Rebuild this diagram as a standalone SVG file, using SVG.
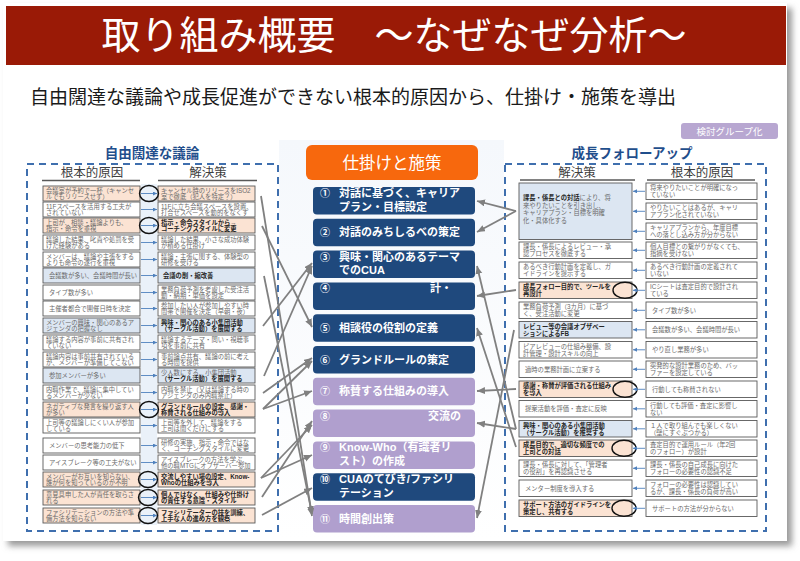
<svg xmlns="http://www.w3.org/2000/svg" width="800" height="561" viewBox="0 0 800 561">
<defs>
<style>
text{font-family:'Liberation Sans','Noto Sans CJK JP',sans-serif}
.bx{stroke:#595959;stroke-width:0.9}
.w{fill:#ffffff}.p{fill:#fbe3d3}.b{fill:#dce6f2}
.t{font-size:6.3px;fill:#6a6a6a}
.tb{font-size:6.3px;fill:#262626;font-weight:bold}
.hd{font-size:12.5px;fill:#404040;text-anchor:middle}
.grp{font-size:13.5px;fill:#1f4e8c;font-weight:bold;text-anchor:middle}
.cb{fill:#1f497d}.cp{fill:#b09fce}
.ct{font-size:11px;fill:#ffffff;font-weight:bold}
.cn{font-size:10px;fill:#ffffff;font-weight:bold}
.ba{stroke:#4f81bd;stroke-width:0.9;marker-end:url(#ab)}
.ga{stroke:#808080;stroke-width:1.8;fill:none;marker-end:url(#ag)}
.cir{fill:none;stroke:#111111;stroke-width:1.4}
.dash{fill:none;stroke:#3f6fae;stroke-width:2;stroke-dasharray:7 5}
.ul{stroke:#595959;stroke-width:1.6}
</style>
<marker id="ab" markerUnits="userSpaceOnUse" markerWidth="5" markerHeight="5" refX="4" refY="2" orient="auto"><path d="M0,0 L4,2 L0,4 z" fill="#4f81bd"/></marker>
<marker id="ag" markerUnits="userSpaceOnUse" markerWidth="9" markerHeight="8" refX="8" refY="3.5" orient="auto"><path d="M0,0 L8,3.5 L0,7 z" fill="#808080"/></marker>
<filter id="sh" x="-5%" y="-5%" width="110%" height="110%"><feGaussianBlur stdDeviation="3"/></filter>
<linearGradient id="pale" x1="0" y1="0" x2="0" y2="1"><stop offset="0" stop-color="#f5f8fc"/><stop offset="1" stop-color="#ffffff"/></linearGradient>
</defs>

<rect width="800" height="561" fill="#ffffff"/>
<rect x="8" y="8" width="784" height="538" fill="#9a9a9a" filter="url(#sh)"/>
<rect x="3" y="3" width="784" height="538" fill="#ffffff"/>

<g id="title">
<rect x="6" y="6" width="780" height="59" fill="#9a1a06"/>
<text x="394" y="49" font-size="39" fill="#ffffff" text-anchor="middle">取り組み概要　～なぜなぜ分析～</text>
</g>
<text id="subtitle" x="30" y="104" font-size="19" fill="#1a1a1a">自由闊達な議論や成長促進ができない根本的原因から、仕掛け・施策を導出</text>
<g id="badge">
<rect x="681" y="123" width="97" height="16" rx="3" fill="#b8a7d1"/>
<text x="729.5" y="134.5" font-size="9.5" fill="#ffffff" text-anchor="middle">検討グループ化</text>
</g>

<rect x="279" y="140" width="225" height="400" fill="url(#pale)"/>

<g id="left-panel">
<text class="grp" x="152" y="158">自由闊達な議論</text>
<rect class="dash" x="27" y="164" width="251" height="367"/>
<text class="hd" x="92" y="177">根本的原因</text>
<text class="hd" x="208" y="177">解決策</text>
<line class="ul" x1="42" y1="180.5" x2="140" y2="180.5"/>
<line class="ul" x1="158" y1="180.5" x2="257" y2="180.5"/>
<rect x="141" y="184" width="16" height="341" fill="#eaf1f9"/>
</g>

<g id="left-rows">
<g id="l1"><rect class="bx p" x="43" y="186" width="97" height="15"/><text class="t"><tspan x="46" y="192.6">会議室が予約で一杯（キャンセ</tspan><tspan x="46" y="199.2">ルでもリリースせず）</tspan></text><rect class="bx p" x="158" y="186" width="97" height="15"/><text class="t"><tspan x="161" y="192.6">キャンセル時のリリースをISO2</tspan><tspan x="161" y="199.2">室で徹底（犯人を特定？）</tspan></text></g>
<g id="l2"><rect class="bx w" x="43" y="202" width="97" height="15"/><text class="t"><tspan x="46" y="208.6">11Fスペースを活用する工夫が</tspan><tspan x="46" y="215.2">されていない</tspan></text><rect class="bx w" x="158" y="202" width="97" height="15"/><text class="t"><tspan x="161" y="208.6">11Fに立ち会議スペースを設置、</tspan><tspan x="161" y="215.2">打合せスペースを動的をなくす</tspan></text></g>
<g id="l3"><rect class="bx p" x="43" y="218" width="97" height="15"/><text class="t"><tspan x="46" y="224.6">上司が、相談・議論よりも、</tspan><tspan x="46" y="231.2">指示・命令を重視</tspan></text><rect class="bx p" x="158" y="218" width="97" height="15"/><text class="tb"><tspan x="161" y="224.6">指示・命令スタイルから→</tspan><tspan x="161" y="231.2">コーチングスタイルに変更</tspan></text></g>
<g id="l4"><rect class="bx w" x="43" y="235" width="97" height="15"/><text class="t"><tspan x="46" y="241.6">議論した結果、叱責や処罰を受</tspan><tspan x="46" y="248.2">けた経験がある</tspan></text><rect class="bx w" x="158" y="235" width="97" height="15"/><text class="t"><tspan x="161" y="241.6">議論した結果、小さな成功体験</tspan><tspan x="161" y="248.2">が積める仕掛け</tspan></text></g>
<g id="l5"><rect class="bx w" x="43" y="252" width="97" height="15"/><text class="t"><tspan x="46" y="258.6">メンバーは、議論や主張をする</tspan><tspan x="46" y="265.2">よりも命令の遂行を重視</tspan></text><rect class="bx w" x="158" y="252" width="97" height="15"/><text class="t"><tspan x="161" y="258.6">議論・主張に関する、体験型の</tspan><tspan x="161" y="265.2">研修を受ける</tspan></text></g>
<g id="l6"><rect class="bx b" x="43" y="268" width="97" height="15"/><text class="t" x="49" y="278">会議数が多い、会議時間が長い</text><rect class="bx b" x="158" y="268" width="97" height="15"/><text class="tb" x="163" y="278">会議の削・縮改善</text></g>
<g id="l7"><rect class="bx w" x="43" y="285" width="97" height="15"/><text class="t" x="49" y="295">タイプ数が多い</text><rect class="bx w" x="158" y="285" width="97" height="15"/><text class="t"><tspan x="161" y="291.6">業務負荷予測を考慮した受注活</tspan><tspan x="161" y="298.2">動・納期・単価を設定</tspan></text></g>
<g id="l8"><rect class="bx w" x="43" y="301" width="97" height="15"/><text class="t" x="49" y="311">主催者都合で開催日時を決定</text><rect class="bx w" x="158" y="301" width="97" height="15"/><text class="t"><tspan x="161" y="307.6">参加したい人が参加しやすい時</tspan><tspan x="161" y="314.2">間帯で開催を決定（早朝・夜）</tspan></text></g>
<g id="l9"><rect class="bx b" x="43" y="318" width="97" height="15"/><text class="t"><tspan x="46" y="324.6">メンバーの興味・関心のあるア</tspan><tspan x="46" y="331.2">ジェンダの把握なし</tspan></text><rect class="bx b" x="158" y="318" width="97" height="15"/><text class="tb"><tspan x="161" y="324.6">興味・関心のある小集団活動</tspan><tspan x="161" y="331.2">（サークル活動）を展開する</tspan></text></g>
<g id="l10"><rect class="bx w" x="43" y="335" width="97" height="15"/><text class="t"><tspan x="46" y="341.6">議論する内容が事前に共有され</tspan><tspan x="46" y="348.2">ていない</tspan></text><rect class="bx w" x="158" y="335" width="97" height="15"/><text class="t"><tspan x="161" y="341.6">議論するテーマ・問い・視聴事</tspan><tspan x="161" y="348.2">項を事前に共有</tspan></text></g>
<g id="l11"><rect class="bx w" x="43" y="352" width="97" height="15"/><text class="t"><tspan x="46" y="358.6">議論内容は事前共有されている</tspan><tspan x="46" y="365.2">が、メンバーが準備してこない</tspan></text><rect class="bx w" x="158" y="352" width="97" height="15"/><text class="t"><tspan x="161" y="358.6">事前論点共有、議論の前に考え</tspan><tspan x="161" y="365.2">る時間を提供</tspan></text></g>
<g id="l12"><rect class="bx b" x="43" y="368" width="97" height="15"/><text class="t" x="49" y="378">参加メンバーが多い</text><rect class="bx b" x="158" y="368" width="97" height="15"/><text class="t"><tspan x="161" y="374.6">少人数にする、小集団活動</tspan><tspan x="161" y="381.2" class="tb">（サークル活動）を展開する</tspan></text></g>
<g id="l13"><rect class="bx w" x="43" y="385" width="97" height="15"/><text class="t"><tspan x="46" y="391.6">内職作業で、議論に集中してい</tspan><tspan x="46" y="398.2">るメンバーが少ない</tspan></text><rect class="bx w" x="158" y="385" width="97" height="15"/><text class="t"><tspan x="161" y="391.6">内職を禁止（又は議論する時の</tspan><tspan x="161" y="398.2">アジェンダのみ内職禁止）</tspan></text></g>
<g id="l14"><rect class="bx p" x="43" y="402" width="97" height="15"/><text class="t"><tspan x="46" y="408.6">ネガティブな発言を繰り返す人</tspan><tspan x="46" y="415.2">が多い</tspan></text><rect class="bx p" x="158" y="402" width="97" height="15"/><text class="tb"><tspan x="161" y="408.6">グランドルールの設定、感謝・</tspan><tspan x="161" y="415.2">称賛される仕組みの導入</tspan></text></g>
<g id="l15"><rect class="bx w" x="43" y="418" width="97" height="15"/><text class="t"><tspan x="46" y="424.6">上司等の議論しにくい人が参加</tspan><tspan x="46" y="431.2">している</tspan></text><rect class="bx w" x="158" y="418" width="97" height="15"/><text class="t"><tspan x="161" y="424.6">上司等を外して、議論をする</tspan><tspan x="161" y="431.2">上司は聞くだけにする</tspan></text></g>
<g id="l16"><rect class="bx w" x="43" y="438" width="97" height="15"/><text class="t" x="49" y="448">メンバーの思考能力の低下</text><rect class="bx w" x="158" y="438" width="97" height="15"/><text class="t"><tspan x="161" y="444.6">研修の実施、指示・命令ではな</tspan><tspan x="161" y="451.2">く、コーチングスタイルに変更</tspan></text></g>
<g id="l17"><rect class="bx w" x="43" y="455" width="97" height="15"/><text class="t" x="49" y="465">アイスブレーク等の工夫がない</text><rect class="bx w" x="158" y="455" width="97" height="15"/><text class="t"><tspan x="161" y="461.6">アイスブレークの方法を学ぶ、</tspan><tspan x="161" y="468.2">他の職MTGにオブザーバー参加</tspan></text></g>
<g id="l18"><rect class="bx p" x="43" y="472" width="97" height="15"/><text class="t"><tspan x="46" y="478.6">メンバーがお互いを知らない、</tspan><tspan x="46" y="485.2">誰が何を知っているのか不明</tspan></text><rect class="bx p" x="158" y="472" width="97" height="15"/><text class="tb"><tspan x="161" y="478.6">交流しやすい場の設定、Know-</tspan><tspan x="161" y="485.2">Whoの仕組みを導入</tspan></text></g>
<g id="l19"><rect class="bx p" x="43" y="490" width="97" height="15"/><text class="t"><tspan x="46" y="496.6">意見具申した人が責任を取らさ</tspan><tspan x="46" y="503.2">れる</tspan></text><rect class="bx p" x="158" y="490" width="97" height="15"/><text class="tb"><tspan x="161" y="496.6">個人ではなく、仕組みや仕掛け</tspan><tspan x="161" y="503.2">の責任する意識・スタイル</tspan></text></g>
<g id="l20"><rect class="bx p" x="43" y="508" width="97" height="15"/><text class="t"><tspan x="46" y="514.6">ファシリテーションの方法や準</tspan><tspan x="46" y="521.2">備方法を知らない</tspan></text><rect class="bx p" x="158" y="508" width="97" height="15"/><text class="tb"><tspan x="161" y="514.6">ファシリテーターの技を訓練、</tspan><tspan x="161" y="521.2">上手な人の進め方を観察</tspan></text></g>
</g>

<g id="center">
<g id="head"><rect x="306" y="145" width="172" height="35" rx="6" fill="#f7680d"/><text x="392" y="169" font-size="16.5" fill="#ffffff" text-anchor="middle">仕掛けと施策</text></g>
<g id="c1"><rect class="cb" x="313" y="187" width="162" height="27.5" rx="4"/><text class="cn" x="320" y="197">①</text><text class="ct"><tspan x="339" y="197">対話に基づく、キャリア</tspan><tspan x="339" y="210.5">プラン・目標設定</tspan></text></g>
<g id="c2"><rect class="cb" x="313" y="218.8" width="162" height="27.5" rx="4"/><text class="cn" x="320" y="236.3">②</text><text class="ct" x="339" y="236.3">対話のみちしるべの策定</text></g>
<g id="c3"><rect class="cb" x="313" y="250.6" width="162" height="27.5" rx="4"/><text class="cn" x="320" y="260.6">③</text><text class="ct"><tspan x="339" y="260.6">興味・関心のあるテーマ</tspan><tspan x="339" y="274">でのCUA</tspan></text></g>
<g id="c4"><rect class="cb" x="313" y="282.4" width="162" height="27.5" rx="4"/><text class="cn" x="320" y="292.4">④</text><text class="ct" x="430" y="292.4">計・</text></g>
<g id="c5"><rect class="cb" x="313" y="314.2" width="162" height="27.5" rx="4"/><text class="cn" x="320" y="331.7">⑤</text><text class="ct" x="339" y="331.7">相談役の役割の定義</text></g>
<g id="c6"><rect class="cb" x="313" y="346" width="162" height="27.5" rx="4"/><text class="cn" x="320" y="363.5">⑥</text><text class="ct" x="339" y="363.5">グランドルールの策定</text></g>
<g id="c7"><rect class="cp" x="313" y="377.8" width="162" height="27.5" rx="4"/><text class="cn" x="320" y="395.3">⑦</text><text class="ct" x="339" y="395.3">称賛する仕組みの導入</text></g>
<g id="c8"><rect class="cp" x="313" y="409.6" width="162" height="27.5" rx="4"/><text class="cn" x="320" y="419.6">⑧</text><text class="ct" x="428" y="419.6">交流の</text></g>
<g id="c9"><rect class="cp" x="313" y="441.4" width="162" height="27.5" rx="4"/><text class="cn" x="320" y="451.4">⑨</text><text class="ct"><tspan x="339" y="451.4">Know-Who（有識者リ</tspan><tspan x="339" y="464.9">スト）の作成</tspan></text></g>
<g id="c10"><rect class="cb" x="313" y="473.2" width="162" height="27.5" rx="4"/><text class="cn" x="320" y="483.2">⑩</text><text class="ct"><tspan x="339" y="483.2">CUAのてびき/ファシリ</tspan><tspan x="339" y="496.7">テーション</tspan></text></g>
<g id="c11"><rect class="cp" x="313" y="505" width="162" height="27.5" rx="4"/><text class="cn" x="320" y="522.5">⑪</text><text class="ct" x="339" y="522.5">時間創出策</text></g>
</g>

<g id="right-panel">
<text class="grp" x="632" y="158">成長フォローアップ</text>
<rect class="dash" x="505" y="164" width="261" height="367"/>
<text class="hd" x="577" y="177">解決策</text>
<text class="hd" x="702" y="177">根本的原因</text>
<line class="ul" x1="520" y1="180" x2="635" y2="180"/>
<line class="ul" x1="647" y1="180" x2="755" y2="180"/>
</g>

<g id="right-rows">
<g id="r1"><rect class="bx b" x="519" y="183" width="113" height="56.5"/><text class="t"><tspan x="523" y="200"><tspan class="tb">課長・係長との対話</tspan>により、将</tspan><tspan x="523" y="207.5">来やりたいことを引き出し、</tspan><tspan x="523" y="215">キャリアプラン・目標を明確</tspan><tspan x="523" y="222.5">化・具体化する</tspan></text>
<rect class="bx w" x="646" y="183" width="111" height="16.5"/><text class="t"><tspan x="650" y="190.2">将来やりたいことが明確になっ</tspan><tspan x="650" y="197.2">ていない</tspan></text>
<rect class="bx w" x="646" y="203" width="111" height="16.5"/><text class="t"><tspan x="650" y="210.2">やりたいことはあるが、キャリ</tspan><tspan x="650" y="217.2">アプラン化されていない</tspan></text>
<rect class="bx w" x="646" y="223" width="111" height="16.5"/><text class="t"><tspan x="650" y="230.2">キャリアプランから、年度目標</tspan><tspan x="650" y="237.2">への落とし込み方が分からない</tspan></text></g>
<g id="r4"><rect class="bx w" x="519" y="242" width="113" height="16.5"/><text class="t"><tspan x="523" y="249.2">課長・係長によるレビュー・承</tspan><tspan x="523" y="256.2">認プロセスを徹底する</tspan></text><rect class="bx w" x="646" y="242" width="111" height="16.5"/><text class="t"><tspan x="650" y="249.2">個人目標との繋がりがなくても、</tspan><tspan x="650" y="256.2">指摘を受けない</tspan></text></g>
<g id="r5"><rect class="bx w" x="519" y="262" width="113" height="16.5"/><text class="t"><tspan x="523" y="269.2">あるべき行動計画を定義し、ガ</tspan><tspan x="523" y="276.2">イドラインを提示する</tspan></text><rect class="bx w" x="646" y="262" width="111" height="16.5"/><text class="t"><tspan x="650" y="269.2">あるべき行動計画の定義されて</tspan><tspan x="650" y="276.2">いない</tspan></text></g>
<g id="r6"><rect class="bx p" x="519" y="282" width="113" height="16.5"/><text class="tb"><tspan x="523" y="289.2">成長フォロー目的で、ツールを</tspan><tspan x="523" y="296.2">再設計</tspan></text><rect class="bx w" x="646" y="282" width="111" height="16.5"/><text class="t"><tspan x="650" y="289.2">ICシートは査定目的で設計され</tspan><tspan x="650" y="296.2">ている</tspan></text></g>
<g id="r7"><rect class="bx w" x="519" y="302" width="113" height="16.5"/><text class="t"><tspan x="523" y="309.2">業務負荷予測（3カ月）に基づ</tspan><tspan x="523" y="316.2">く、受注活動に変更</tspan></text><rect class="bx w" x="646" y="302" width="111" height="16.5"/><text class="t" x="652" y="312.5">タイプ数が多い</text></g>
<g id="r8"><rect class="bx b" x="519" y="321.5" width="113" height="16.5"/><text class="tb"><tspan x="523" y="328.7">レビュー等の会議オブザベー</tspan><tspan x="523" y="335.7">ションによるFB</tspan></text><rect class="bx w" x="646" y="321.5" width="111" height="16.5"/><text class="t" x="652" y="332">会議数が多い、会議時間が長い</text></g>
<g id="r9"><rect class="bx w" x="519" y="341.5" width="113" height="16.5"/><text class="t"><tspan x="523" y="348.7">ピアレビューの仕組み整備、設</tspan><tspan x="523" y="355.7">計管理・設計スキルの向上</tspan></text><rect class="bx w" x="646" y="341.5" width="111" height="16.5"/><text class="t" x="652" y="352">やり直し業務が多い</text></g>
<g id="r10"><rect class="bx w" x="519" y="361" width="113" height="16.5"/><text class="t" x="525" y="371.5">適時の業務計画に立案する</text><rect class="bx w" x="646" y="361" width="111" height="16.5"/><text class="t"><tspan x="650" y="368.2">突発的な設計業務のため、バッ</tspan><tspan x="650" y="375.2">ファーを設定している</tspan></text></g>
<g id="r11"><rect class="bx p" x="519" y="381" width="113" height="16.5"/><text class="tb"><tspan x="523" y="388.2">感謝・称賛が評価される仕組み</tspan><tspan x="523" y="395.2">を導入</tspan></text><rect class="bx w" x="646" y="381" width="111" height="16.5"/><text class="t" x="652" y="391.5">行動しても称賛されない</text></g>
<g id="r12"><rect class="bx w" x="519" y="400.5" width="113" height="16.5"/><text class="t" x="525" y="411">提案活動を評価・査定に反映</text><rect class="bx w" x="646" y="400.5" width="111" height="16.5"/><text class="t"><tspan x="650" y="407.7">行動しても評価・査定に影響し</tspan><tspan x="650" y="414.7">ない</tspan></text></g>
<g id="r13"><rect class="bx b" x="519" y="420.5" width="113" height="16.5"/><text class="tb"><tspan x="523" y="427.7">興味・関心のある小集団活動</tspan><tspan x="523" y="434.7">（サークル活動）を推奨する</tspan></text><rect class="bx w" x="646" y="420.5" width="111" height="16.5"/><text class="t"><tspan x="650" y="427.7">１人で取り組んでも楽しくない</tspan><tspan x="650" y="434.7">（壁にすぐぶつかる）</tspan></text></g>
<g id="r14"><rect class="bx p" x="519" y="440" width="113" height="16.5"/><text class="tb"><tspan x="523" y="447.2">成長目的で、適切な頻度での</tspan><tspan x="523" y="454.2">上司との対話</tspan></text><rect class="bx w" x="646" y="440" width="111" height="16.5"/><text class="t"><tspan x="650" y="447.2">査定目的で運用ルール（年2回</tspan><tspan x="650" y="454.2">のフォロー）が設計</tspan></text></g>
<g id="r15"><rect class="bx w" x="519" y="460" width="113" height="16.5"/><text class="t"><tspan x="523" y="467.2">課長・係長に対して、「管理者</tspan><tspan x="523" y="474.2">の役割」を再認識させる</tspan></text><rect class="bx w" x="646" y="460" width="111" height="16.5"/><text class="t"><tspan x="650" y="467.2">課長・係長の自己成長に向けた</tspan><tspan x="650" y="474.2">フォローの必要性の認識不足</tspan></text></g>
<g id="r16"><rect class="bx w" x="519" y="480" width="113" height="16.5"/><text class="t" x="525" y="490.5">メンター制度を導入する</text><rect class="bx w" x="646" y="480" width="111" height="16.5"/><text class="t"><tspan x="650" y="487.2">フォローの必要性は認識してい</tspan><tspan x="650" y="494.2">るが、課長・係長の負荷が高い</tspan></text></g>
<g id="r17"><rect class="bx p" x="519" y="500" width="113" height="16.5"/><text class="tb"><tspan x="523" y="507.2">サポート方法のガイドラインを</tspan><tspan x="523" y="514.2">策定し、共有する</tspan></text><rect class="bx w" x="646" y="500" width="111" height="16.5"/><text class="t" x="652" y="510.5">サポートの方法が分からない</text></g>
</g>

<g id="marks">
<ellipse class="cir" cx="149" cy="193.5" rx="9.5" ry="8"/>
<ellipse class="cir" cx="149" cy="225.5" rx="9.5" ry="8"/>
<ellipse class="cir" cx="149" cy="409.5" rx="9.5" ry="8"/>
<ellipse class="cir" cx="148" cy="479.5" rx="9.5" ry="8"/>
<ellipse class="cir" cx="148" cy="497.5" rx="9.5" ry="8"/>
<ellipse class="cir" cx="148" cy="515.5" rx="9.5" ry="8"/>
<ellipse class="cir" cx="625" cy="290.3" rx="12" ry="8"/>
<ellipse class="cir" cx="625" cy="389.3" rx="12" ry="8"/>
<ellipse class="cir" cx="624" cy="448.3" rx="12" ry="8"/>
<ellipse class="cir" cx="624" cy="508.3" rx="12" ry="8"/>
</g>

<g id="connectors">
<line class="ba" x1="141" y1="193.5" x2="157" y2="193.5"/>
<line class="ba" x1="141" y1="209.5" x2="157" y2="209.5"/>
<line class="ba" x1="141" y1="225.5" x2="157" y2="225.5"/>
<line class="ba" x1="141" y1="242.5" x2="157" y2="242.5"/>
<line class="ba" x1="141" y1="259.5" x2="157" y2="259.5"/>
<line class="ba" x1="141" y1="275.5" x2="157" y2="275.5"/>
<line class="ba" x1="141" y1="292.5" x2="157" y2="292.5"/>
<line class="ba" x1="141" y1="308.5" x2="157" y2="308.5"/>
<line class="ba" x1="141" y1="325.5" x2="157" y2="325.5"/>
<line class="ba" x1="141" y1="342.5" x2="157" y2="342.5"/>
<line class="ba" x1="141" y1="359.5" x2="157" y2="359.5"/>
<line class="ba" x1="141" y1="375.5" x2="157" y2="375.5"/>
<line class="ba" x1="141" y1="392.5" x2="157" y2="392.5"/>
<line class="ba" x1="141" y1="409.5" x2="157" y2="409.5"/>
<line class="ba" x1="141" y1="425.5" x2="157" y2="425.5"/>
<line class="ba" x1="141" y1="445.5" x2="157" y2="445.5"/>
<line class="ba" x1="141" y1="462.5" x2="157" y2="462.5"/>
<line class="ba" x1="141" y1="479.5" x2="157" y2="479.5"/>
<line class="ba" x1="141" y1="497.5" x2="157" y2="497.5"/>
<line class="ba" x1="141" y1="515.5" x2="157" y2="515.5"/>

<line class="ba" x1="645" y1="191.3" x2="633" y2="191.3"/>
<line class="ba" x1="645" y1="211.3" x2="633" y2="211.3"/>
<line class="ba" x1="645" y1="231.3" x2="633" y2="231.3"/>
<line class="ba" x1="645" y1="250.3" x2="633" y2="250.3"/>
<line class="ba" x1="645" y1="270.3" x2="633" y2="270.3"/>
<line class="ba" x1="645" y1="290.3" x2="633" y2="290.3"/>
<line class="ba" x1="645" y1="310.3" x2="633" y2="310.3"/>
<line class="ba" x1="645" y1="329.8" x2="633" y2="329.8"/>
<line class="ba" x1="645" y1="349.8" x2="633" y2="349.8"/>
<line class="ba" x1="645" y1="369.3" x2="633" y2="369.3"/>
<line class="ba" x1="645" y1="389.3" x2="633" y2="389.3"/>
<line class="ba" x1="645" y1="408.8" x2="633" y2="408.8"/>
<line class="ba" x1="645" y1="428.8" x2="633" y2="428.8"/>
<line class="ba" x1="645" y1="448.3" x2="633" y2="448.3"/>
<line class="ba" x1="645" y1="468.3" x2="633" y2="468.3"/>
<line class="ba" x1="645" y1="488.3" x2="633" y2="488.3"/>
<line class="ba" x1="645" y1="508.3" x2="633" y2="508.3"/>

<line class="ga" x1="261" y1="196" x2="312" y2="516"/>
<line class="ga" x1="262" y1="226" x2="312" y2="327"/>
<line class="ga" x1="264" y1="276" x2="312" y2="514"/>
<line class="ga" x1="263" y1="326" x2="312" y2="263"/>
<line class="ga" x1="264" y1="376" x2="312" y2="266"/>
<line class="ga" x1="263" y1="393" x2="312" y2="358"/>
<line class="ga" x1="263" y1="409" x2="312" y2="361"/>
<line class="ga" x1="263" y1="409" x2="312" y2="391"/>
<line class="ga" x1="261" y1="478" x2="312" y2="425"/>
<line class="ga" x1="261" y1="478" x2="312" y2="455"/>
<line class="ga" x1="262" y1="497" x2="312" y2="421"/>
<line class="ga" x1="262" y1="515" x2="312" y2="488"/>

<line class="ga" x1="516" y1="211" x2="477" y2="201"/>
<line class="ga" x1="516" y1="211" x2="477" y2="232"/>
<line class="ga" x1="516" y1="290" x2="477" y2="296"/>
<line class="ga" x1="514" y1="330" x2="477" y2="518"/>
<line class="ga" x1="516" y1="429" x2="477" y2="266"/>
<line class="ga" x1="516" y1="447" x2="477" y2="328"/>
<line class="ga" x1="516" y1="389" x2="477" y2="391"/>
<line class="ga" x1="516" y1="429" x2="477" y2="423"/>
</g>
</svg>
